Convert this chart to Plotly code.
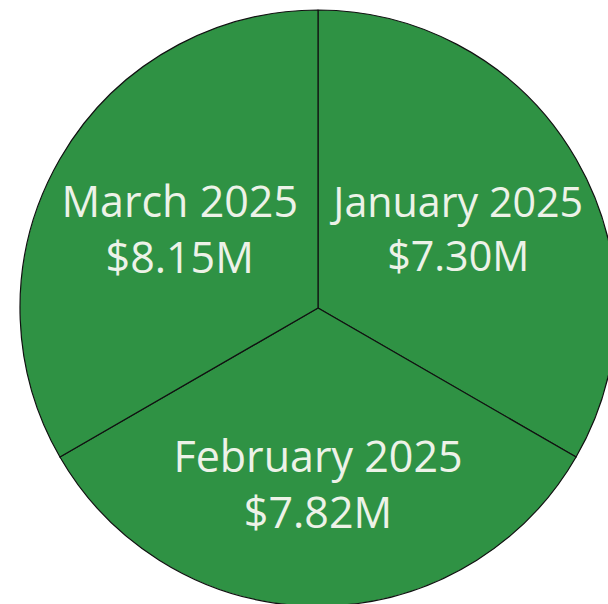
import plotly.graph_objects as go

months = ["January 2025", "February 2025", "March 2025"]
revenue_m = [7.30, 7.82, 8.15]
slice_weight = [1, 1, 1]

labels_text = [f"{m}<br>${v:.2f}M" for m, v in zip(months, revenue_m)]

W, H = 616, 606
fig = go.Figure(go.Pie(
    labels=months,
    values=slice_weight,
    text=labels_text,
    textinfo="text",
    hoverinfo="text",
    sort=False,
    direction="clockwise",
    rotation=0,
    marker=dict(colors=["#2f9244"] * 3, line=dict(color="#111111", width=1.2)),
    textposition="inside",
    insidetextorientation="horizontal",
    textfont=dict(family="Open Sans", size=43, color="#edf2e8"),
    domain=dict(x=[20 / W, 1.0], y=[0.0, 596 / H]),
    showlegend=False,
))
fig.update_layout(
    width=W, height=H,
    margin=dict(l=0, r=0, t=0, b=0),
    paper_bgcolor="white",
    plot_bgcolor="white",
)
fig.write_html(
    "out.html",
    config={"displayModeBar": False},
    post_script="document.body.style.margin='0';document.body.style.overflow='hidden';document.documentElement.style.overflow='hidden';",
)
